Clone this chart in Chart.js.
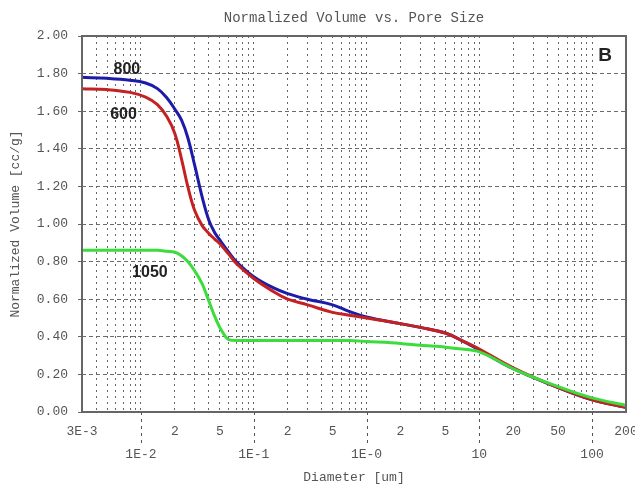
<!DOCTYPE html>
<html lang="en">
<head>
<meta charset="UTF-8">
<title>Normalized Volume vs. Pore Size</title>
<script src="https://cdn.jsdelivr.net/npm/chart.js"></script>
<style>
  html, body { margin: 0; padding: 0; background: #fff; }
  #wrap { width: 635px; height: 486px; }
</style>
</head>
<body>
<div id="wrap"><canvas id="poreChart"></canvas></div>
<script>
// pore diameter [um], shared by all three curves
const diameters = [0.003, 0.005, 0.008, 0.011, 0.014, 0.017, 0.02, 0.023, 0.026, 0.03, 0.035, 0.04, 0.045, 0.05,
                   0.06, 0.07, 0.1, 0.15, 0.2, 0.3, 0.5, 0.7, 1, 2, 3, 5, 7, 10, 20, 50, 100, 200];

// normalized cumulative volume [cc/g]
const vol800  = [1.78, 1.775, 1.765, 1.75, 1.72, 1.67, 1.61, 1.55, 1.46, 1.31, 1.14, 1.02, 0.955, 0.915,
                 0.85, 0.80, 0.72, 0.66, 0.63, 0.60, 0.57, 0.535, 0.505, 0.47, 0.45, 0.42, 0.38, 0.33, 0.23, 0.13, 0.065, 0.025];
const vol600  = [1.72, 1.715, 1.70, 1.675, 1.635, 1.57, 1.48, 1.34, 1.20, 1.07, 0.99, 0.95, 0.92, 0.895,
                 0.84, 0.79, 0.71, 0.64, 0.60, 0.57, 0.53, 0.515, 0.50, 0.47, 0.45, 0.42, 0.38, 0.335, 0.235, 0.13, 0.065, 0.025];
const vol1050 = [0.86, 0.86, 0.86, 0.86, 0.86, 0.855, 0.85, 0.83, 0.80, 0.75, 0.68, 0.59, 0.51, 0.45,
                 0.385, 0.38, 0.38, 0.38, 0.38, 0.38, 0.38, 0.38, 0.375, 0.365, 0.355, 0.345, 0.335, 0.32, 0.23, 0.135, 0.075, 0.035];

// axis tick labels (two rows under the x axis)
const xTickLabels = {
  0.003: '3E-3', 0.01: ['', '1E-2'], 0.02: '2', 0.05: '5',
  0.1: ['', '1E-1'], 0.2: '2', 0.5: '5',
  1: ['', '1E-0'], 2: '2', 5: '5',
  10: ['', '10'], 20: '20', 50: '50',
  100: ['', '100'], 200: '200'
};
const decades = [0.01, 0.1, 1, 10, 100];

// series names written next to the curves
const curveNotes = [
  { text: '800',  x: 0.0075, y: 1.82 },
  { text: '600',  x: 0.0070, y: 1.58 },
  { text: '1050', x: 0.0120, y: 0.74 }
];

const axisFont = { family: "'Liberation Mono', 'DejaVu Sans Mono', monospace", size: 13 };
const axisColor = '#555';

const toPts = vals => vals.map((v, i) => ({ x: diameters[i], y: v }));

// frame, decade tick extensions and the curve notes
const decor = {
  id: 'decor',
  afterDraw(chart) {
    const { ctx, chartArea: a, scales } = chart;
    ctx.save();
    ctx.strokeStyle = '#666';
    ctx.lineWidth = 2;
    ctx.strokeRect(a.left, a.top, a.right - a.left, a.bottom - a.top);

    ctx.lineWidth = 1;
    ctx.setLineDash([3, 4]);
    ctx.strokeStyle = '#555';
    decades.forEach(d => {
      const px = Math.round(scales.x.getPixelForValue(d)) + 0.5;
      ctx.beginPath();
      ctx.moveTo(px, a.bottom);
      ctx.lineTo(px, a.bottom + 33);
      ctx.stroke();
    });
    ctx.setLineDash([]);

    ctx.fillStyle = '#222';
    ctx.font = "bold 16px 'Liberation Sans', Arial, sans-serif";
    ctx.textAlign = 'center';
    ctx.textBaseline = 'middle';
    curveNotes.forEach(n => {
      ctx.fillText(n.text, scales.x.getPixelForValue(n.x), scales.y.getPixelForValue(n.y));
    });
    ctx.font = "bold 19px 'Liberation Sans', Arial, sans-serif";
    ctx.fillText('B', a.right - 21, a.top + 20);
    ctx.restore();
  }
};

// smooth: bezier curves for the S-shaped ones, monotone where a sharp knee is needed
const line = (label, vals, color, smooth) => ({
  label,
  data: toPts(vals),
  borderColor: color,
  borderWidth: 3,
  pointRadius: 0,
  fill: false,
  tension: smooth ? 0.4 : 0,
  cubicInterpolationMode: smooth ? 'default' : 'monotone'
});

new Chart(document.getElementById('poreChart'), {
  type: 'line',
  data: {
    datasets: [
      line('1050', vol1050, '#3cdc3c', false),
      line('600', vol600, '#c42222', true),
      line('800', vol800, '#1c1ca8', true)
    ]
  },
  plugins: [decor],
  options: {
    responsive: true,
    maintainAspectRatio: false,
    animation: false,
    layout: { padding: { left: 0, right: 9, top: 0, bottom: 0 } },
    plugins: {
      legend: { display: false },
      tooltip: { enabled: false },
      title: {
        display: true,
        text: 'Normalized Volume vs. Pore Size',
        fullSize: false,
        color: axisColor,
        font: { family: axisFont.family, size: 14, weight: 'normal', lineHeight: '17px' },
        padding: { top: 10, bottom: 9 }
      }
    },
    scales: {
      x: {
        type: 'logarithmic',
        min: 0.003,
        max: 200,
        afterBuildTicks(scale) {
          const vals = [];
          for (let k = -3; k <= 2; k++) {
            for (let m = 1; m <= 9; m++) {
              const v = Number((m * Math.pow(10, k)).toPrecision(3));
              if (v >= 0.003 && v <= 200) vals.push(v);
            }
          }
          scale.ticks = vals.map(v => ({ value: v }));
        },
        afterFit(scale) {
          scale.height = 74;
          scale.paddingLeft = 0;
          scale.paddingRight = 0;
        },
        ticks: {
          autoSkip: false,
          maxRotation: 0,
          minRotation: 0,
          padding: 4,
          color: axisColor,
          font: { ...axisFont, lineHeight: '23px' },
          callback: v => xTickLabels[Number(v.toPrecision(3))] || ''
        },
        grid: {
          color: '#666',
          lineWidth: 1,
          drawTicks: true,
          tickLength: 4,
          tickColor: 'rgba(0,0,0,0)'
        },
        border: { display: false, dash: [2, 4] },
        title: {
          display: true,
          text: 'Diameter [um]',
          color: axisColor,
          font: axisFont,
          padding: { top: 0, bottom: 1 }
        }
      },
      y: {
        min: 0,
        max: 2,
        afterFit(scale) {
          scale.width = 82;
          scale.paddingTop = 0;
          scale.paddingBottom = 0;
        },
        ticks: {
          stepSize: 0.2,
          padding: 10,
          color: axisColor,
          font: axisFont,
          callback: v => v.toFixed(2)
        },
        grid: {
          color: '#6a6a6a',
          lineWidth: 1,
          tickLength: 4,
          tickColor: '#666'
        },
        border: { display: false, dash: [4, 3] },
        title: {
          display: true,
          text: 'Normalized Volume [cc/g]',
          color: axisColor,
          font: axisFont,
          padding: { top: 8, bottom: 0 }
        }
      }
    }
  }
});
</script>
</body>
</html>
